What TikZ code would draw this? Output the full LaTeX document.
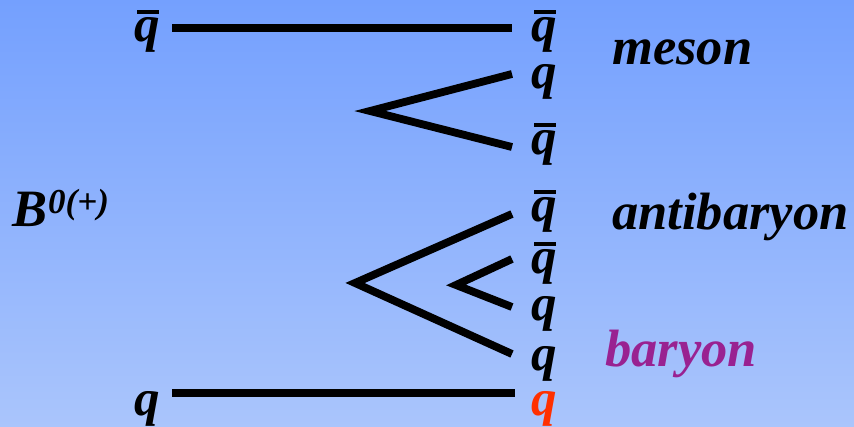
\documentclass[tikz,border=0pt]{standalone}
\usepackage{fontspec}
\setmainfont{Liberation Serif}
\usetikzlibrary{positioning}
\usepackage{xcolor}
\definecolor{skytop}{RGB}{116,160,254}
\definecolor{skybottom}{RGB}{170,197,252}
\definecolor{baryonpurple}{RGB}{153,34,145}
\definecolor{quarkred}{RGB}{255,48,0}
\newcommand{\aq}{\leavevmode\rlap{\kern0.06em\rule[0.55em]{0.42em}{0.085em}}q}
\tikzset{
  quark/.style={anchor=base west, inner sep=0pt, font=\fontsize{51}{60}\selectfont\bfseries\itshape},
  hadron/.style={anchor=base west, inner sep=0pt, font=\fontsize{52.5}{60}\selectfont\bfseries\itshape},
  qline/.style={line width=7.8pt, line join=miter}
}

\begin{document}
\begin{tikzpicture}[x=1pt, y=-1pt]
\shade[top color=skytop, bottom color=skybottom] (0,0) rectangle (854,427);
\useasboundingbox (0,0) rectangle (854,427);
% incoming quarks
\node[quark] (inqb) at (134,42) {\aq};
\node[quark] (inq) at (134,415) {q};
\node[hadron] (bmes) at (12,227) {B\kern1pt\raisebox{13pt}{\fontsize{35}{40}\selectfont 0(+)}};
% outgoing quarks
\foreach \name/\y/\txt in {oqa/42/\aq, oqb/89/q, oqc/155/\aq, oqd/222/\aq, oqe/274/\aq, oqf/321/q, oqg/371/q}{
  \node[quark] (\name) at (531,\y) {\txt};
}
\node[quark, text=quarkred] (oqh) at (531,415) {q};
% hadrons
\node[hadron] (meson) at (612,65) {meson};
\node[hadron] (antib) at (612,230) {antibaryon};
\node[hadron, text=baryonpurple] (baryon) at (605,367) {baryon};
% spectator lines
\coordinate (ta) at (172,28);
\coordinate (tb) at (512,28);
\coordinate (ba) at (172,393);
\coordinate (bb) at (515,393);
\draw[qline] (ta) -- (tb);
\draw[qline] (ba) -- (bb);
% pair creation
\coordinate (mv) at (370,111);
\coordinate (mu) at (512,74);
\coordinate (ml) at (512,147);
\coordinate (bv) at (355,283);
\coordinate (bu) at (512,214);
\coordinate (bl) at (512,354);
\coordinate (sv) at (456,285);
\coordinate (su) at (512,259);
\coordinate (sl) at (512,307);
\foreach \v in {m,b,s}{\draw[qline] (\v u) -- (\v v) -- (\v l);}
\end{tikzpicture}
\end{document}
